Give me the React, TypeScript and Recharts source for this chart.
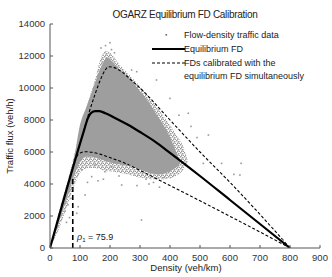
import React from 'react';
import { ComposedChart, Area, Line, Scatter, XAxis, YAxis } from 'recharts';

const xTicks = [0, 100, 200, 300, 400, 500, 600, 700, 800, 900];
const yTicks = [0, 2000, 4000, 6000, 8000, 10000, 12000, 14000];

// dense core of the flow-density cloud (lower / upper edge per density)
const cloudDensity = [0, 20, 40, 60, 80, 100, 120, 140, 160, 175, 190, 210, 240, 270, 300, 330, 360, 390, 410, 425, 435];
const cloudLow = [0, 1000, 2200, 3300, 4500, 5400, 5700, 5700, 5600, 5500, 5400, 5300, 5200, 5100, 4900, 4700, 4600, 4700, 4900, 5100, 5300];
const cloudHigh = [0, 1500, 2800, 4200, 5600, 7700, 8750, 9800, 10850, 11500, 11900, 11600, 11000, 10500, 9800, 9100, 8200, 7300, 6500, 5800, 5300];

// thinner fringe round the core
const fringeDensity = [0, 30, 60, 90, 110, 130, 150, 170, 185, 200, 230, 260, 300, 340, 380, 420, 445, 460];
const fringeLow = [0, 1200, 2800, 4300, 4900, 5000, 5000, 4900, 4800, 4800, 4700, 4600, 4400, 4300, 4300, 4500, 4900, 5400];
const fringeHigh = [0, 2300, 4300, 6500, 8000, 9300, 10500, 11900, 12300, 12200, 11500, 10900, 10100, 9200, 8200, 7100, 6300, 5400];

// sparse points outside the cloud
const sparseDensity = [170, 185, 200, 205, 215, 272, 289, 355, 400, 461, 528, 633, 637, 613, 572, 511, 777, 94, 106, 139, 150, 183, 206, 239, 117, 267, 305, 94, 89, 50, 60, 65, 70, 55, 72, 178, 230, 320, 345, 380, 430, 470, 490, 160, 125, 290, 330, 365];
const sparseFlux = [12500, 12650, 12830, 12400, 12200, 11125, 11020, 10500, 9350, 8420, 7060, 4560, 5290, 4600, 5290, 5290, 500, 5290, 4875, 4460, 5190, 4770, 5080, 3940, 3310, 5190, 1750, 2580, 2170, 2300, 2700, 1900, 3100, 1600, 3700, 4300, 4500, 4300, 4100, 4400, 8300, 7600, 6900, 4200, 4100, 3900, 4000, 3800];

const eqDensity = [0, 115, 125, 135, 150, 165, 185, 220, 260, 300, 350, 400, 500, 600, 700, 800];
const eqFlux = [0, 7450, 8050, 8400, 8560, 8550, 8420, 8100, 7700, 7250, 6650, 5950, 4500, 3000, 1500, 0];

const upperDensity = [112, 130, 150, 170, 185, 195, 210, 240, 270, 300, 400, 500, 600, 700, 800];
const upperFlux = [7300, 8450, 9600, 10600, 11150, 11330, 11300, 11000, 10500, 10000, 8000, 6000, 4100, 2100, 0];

const lowerDensity = [88, 100, 117, 140, 170, 200, 250, 300, 400, 500, 600, 700, 800];
const lowerFlux = [5700, 5930, 6020, 5980, 5850, 5650, 5300, 4850, 3900, 2950, 1980, 1000, 0];

const rho1 = 75.9;
const rho1Flux = [0, 4400];

const cloud = cloudDensity.map((x, i) => ({ x, range: [cloudLow[i], cloudHigh[i]] }));
const fringe = fringeDensity.map((x, i) => ({ x, range: [fringeLow[i], fringeHigh[i]] }));
const sparse = sparseDensity.map((x, i) => ({ x, y: sparseFlux[i] }));
const eq = eqDensity.map((x, i) => ({ x, y: eqFlux[i] }));
const upper = upperDensity.map((x, i) => ({ x, y: upperFlux[i] }));
const lower = lowerDensity.map((x, i) => ({ x, y: lowerFlux[i] }));
const rhoLine = rho1Flux.map((y) => ({ x: rho1, y }));

const font = '"Liberation Sans", Arial, sans-serif';
const axisColor = '#555';
const tickStyle = { fontSize: 9.5, fill: '#333', fontFamily: font };

const Dot = (p: any) => (
  <rect x={p.cx - 0.8} y={p.cy - 0.8} width={1.6} height={1.6} fill="#999" />
);

export default function App() {
  return (
    <div style={{ position: 'absolute', left: 0, top: 0, width: 332, height: 277, background: '#fff', fontFamily: font }}>
      <svg width={0} height={0} style={{ position: 'absolute' }}>
        <defs>
          <pattern id="speckle" width={4} height={4} patternUnits="userSpaceOnUse">
            <rect width={4} height={4} fill="#fff" />
            <rect x={0} y={0} width={1.5} height={1.5} fill="#9a9a9a" />
            <rect x={2} y={1} width={1.5} height={1.5} fill="#9a9a9a" />
            <rect x={1} y={2.5} width={1.5} height={1.5} fill="#9a9a9a" />
            <rect x={3} y={3} width={1} height={1} fill="#9a9a9a" />
          </pattern>
        </defs>
      </svg>
      <ComposedChart width={332} height={277} margin={{ top: 24, right: 12, left: 6, bottom: 9 }}>
        <XAxis
          dataKey="x"
          type="number"
          domain={[0, 900]}
          ticks={xTicks}
          interval={0}
          allowDataOverflow
          height={20}
          tickSize={-3}
          tickMargin={9}
          stroke={axisColor}
          tick={tickStyle}
        />
        <YAxis
          type="number"
          domain={[0, 14000]}
          ticks={yTicks}
          interval={0}
          allowDataOverflow
          width={44}
          tickSize={-3}
          tickMargin={8}
          stroke={axisColor}
          tick={tickStyle}
        />
        <XAxis xAxisId="top" orientation="top" type="number" domain={[0, 900]} ticks={xTicks} interval={0} allowDataOverflow height={0} tickSize={-3} tickFormatter={() => ''} stroke={axisColor} />
        <YAxis yAxisId="right" orientation="right" type="number" domain={[0, 14000]} ticks={yTicks} interval={0} allowDataOverflow width={0} tickSize={-3} tickFormatter={() => ''} stroke={axisColor} />

        <Area data={fringe} dataKey="range" type="monotone" fill="url(#speckle)" fillOpacity={1} stroke="none" isAnimationActive={false} />
        <Area data={cloud} dataKey="range" type="monotone" fill="#9e9e9e" fillOpacity={1} stroke="none" isAnimationActive={false} />
        <Scatter data={sparse} dataKey="y" shape={Dot} isAnimationActive={false} />
        <Line data={rhoLine} dataKey="y" type="linear" stroke="#000" strokeWidth={1.6} strokeDasharray="5 3" dot={false} isAnimationActive={false} />
        <Line data={upper} dataKey="y" type="monotone" stroke="#000" strokeWidth={1.1} strokeDasharray="3 2" dot={false} isAnimationActive={false} />
        <Line data={lower} dataKey="y" type="monotone" stroke="#000" strokeWidth={1.1} strokeDasharray="3 2" dot={false} isAnimationActive={false} />
        <Line data={eq} dataKey="y" type="monotone" stroke="#000" strokeWidth={2.2} dot={false} isAnimationActive={false} />
      </ComposedChart>

      <svg width={332} height={277} style={{ position: 'absolute', left: 0, top: 0, pointerEvents: 'none' }} fontFamily={font}>
        <text x={185} y={18} textAnchor="middle" fontSize={10} fill="#222" letterSpacing={-0.3}>OGARZ Equilibrium FD Calibration</text>

        <rect x={165.5} y={34} width={1.6} height={1.6} fill="#666" />
        <text x={184} y={38} fontSize={9} fill="#222">Flow-density traffic data</text>
        <line x1={152} x2={185} y1={49} y2={49} stroke="#000" strokeWidth={2.2} />
        <text x={184} y={52} fontSize={9} fill="#222">Equilibrium FD</text>
        <line x1={152} x2={185} y1={63} y2={63} stroke="#000" strokeWidth={1.1} strokeDasharray="3 2" />
        <text x={184} y={66} fontSize={9} fill="#222">FDs calibrated with the</text>
        <text x={184} y={79} fontSize={9} fill="#222">equilibrium FD simultaneously</text>

        <text x={77} y={240} fontSize={9} fill="#222">
          <tspan fontStyle="italic">ρ</tspan>
          <tspan fontSize={6} dy={2}>1</tspan>
          <tspan dy={-2}> = 75.9</tspan>
        </text>

        <text x={186} y={271} textAnchor="middle" fontSize={9.5} fill="#222">Density (veh/km)</text>
        <text x={0} y={0} transform="translate(13,136) rotate(-90)" textAnchor="middle" fontSize={9.5} fill="#222">Traffic flux (veh/h)</text>
      </svg>
    </div>
  );
}
